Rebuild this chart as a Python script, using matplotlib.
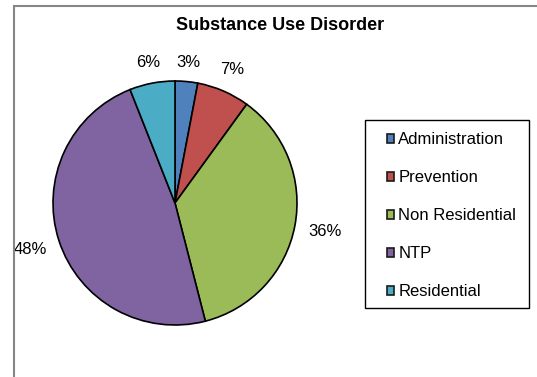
import numpy as np
import matplotlib
matplotlib.use("Agg")
import matplotlib.pyplot as plt
from matplotlib.patches import Rectangle

plt.rcParams['font.family'] = ['Liberation Sans', 'DejaVu Sans']

title = "Substance Use Disorder"
categories = ["Administration", "Prevention", "Non Residential", "NTP", "Residential"]
shares = [3, 7, 36, 48, 6]
colors = ["#4F81BD", "#C0504D", "#9BBB59", "#8064A2", "#4BACC6"]

W, H = 537, 377
fig = plt.figure(figsize=(W / 100, H / 100), dpi=100)

# chart frame (runs off the right and bottom edges)
fig.add_artist(Rectangle((13.5 / W, -0.1), 1.2, 1.1 - 6.5 / H,
                         transform=fig.transFigure, fill=False,
                         edgecolor="#868686", linewidth=1.5))

# pie axes: center (175, 203) px, radius 122 px
cx, cy, R, half = 175, 203, 122, 160
ax = fig.add_axes([(cx - half) / W, (H - cy - half) / H, 2 * half / W, 2 * half / H])

wedges, _ = ax.pie(shares, colors=colors, startangle=90, counterclock=False,
                   radius=1.0, wedgeprops=dict(edgecolor="black", linewidth=1.2))
lim = half / R
ax.set_xlim(-lim, lim)
ax.set_ylim(-lim, lim)
ax.set_aspect("equal")
ax.axis("off")

# percentage labels just outside each slice
for w, v in zip(wedges, shares):
    ang = np.deg2rad((w.theta1 + w.theta2) / 2)
    r = 1.15 + 0.1 * abs(np.cos(ang))
    ax.text(r * np.cos(ang), r * np.sin(ang), f"{v}%", ha="center", va="center",
            fontsize=12, color="black")

fig.text(280 / W, 1 - 25 / H, title, ha="center", va="center",
         fontsize=13, fontweight="bold")

# legend box
lx0, ly0, lx1, ly1 = 365, 120, 529, 308
fig.add_artist(Rectangle((lx0 / W, 1 - ly1 / H), (lx1 - lx0) / W, (ly1 - ly0) / H,
                         transform=fig.transFigure, fill=False,
                         edgecolor="black", linewidth=1.0))
leg = fig.legend(wedges, categories, loc="upper left",
                 bbox_to_anchor=(380 / W, 1 - 125.5 / H), frameon=False,
                 fontsize=12, handlelength=0.45, handleheight=0.45,
                 handletextpad=0.25, labelspacing=1.38, borderaxespad=0)
for h in leg.legend_handles:
    h.set_edgecolor("#1a1a1a")
    h.set_linewidth(1.2)

fig.savefig("out.png", dpi=100)
